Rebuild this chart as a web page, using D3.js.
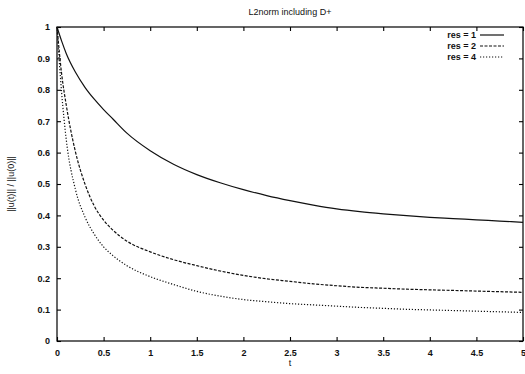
<!DOCTYPE html>
<html>
<head>
<meta charset="utf-8">
<script src="https://cdn.jsdelivr.net/npm/d3@7"></script>
<style>
  body { margin: 0; background: #fff; }
  svg { display: block; font-family: "Liberation Sans", Arial, sans-serif; }
  .tick-label { font-size: 9px; font-weight: bold; fill: #111; }
</style>
</head>
<body>
<div id="chart"></div>
<script>
const width = 525, height = 374;
const margin = { top: 27, right: 2, bottom: 33, left: 57 };

const title = "L2norm including D+";
const xLabel = "t";
const yLabel = "||u(t)|| / ||u(0)||";

const xTicks = [0, 0.5, 1, 1.5, 2, 2.5, 3, 3.5, 4, 4.5, 5];
const yTicks = [0, 0.1, 0.2, 0.3, 0.4, 0.5, 0.6, 0.7, 0.8, 0.9, 1];

const tValues = [0, 0.05, 0.1, 0.2, 0.3, 0.4, 0.5, 0.6, 0.75, 1, 1.25, 1.5, 1.75, 2,
  2.25, 2.5, 2.75, 3, 3.25, 3.5, 3.75, 4, 4.25, 4.5, 4.75, 5];
const res1 = [1, 0.955, 0.915, 0.855, 0.808, 0.77, 0.737, 0.707, 0.662, 0.606, 0.563,
  0.53, 0.504, 0.482, 0.463, 0.447, 0.433, 0.421, 0.412, 0.405, 0.399, 0.394,
  0.39, 0.386, 0.382, 0.378];
const res2 = [1, 0.85, 0.75, 0.6, 0.5, 0.43, 0.385, 0.353, 0.318, 0.284, 0.259,
  0.24, 0.223, 0.209, 0.198, 0.19, 0.182, 0.176, 0.171, 0.168, 0.165, 0.163,
  0.161, 0.159, 0.157, 0.155];
const res4 = [1, 0.79, 0.64, 0.48, 0.395, 0.34, 0.30, 0.272, 0.24, 0.205, 0.18,
  0.158, 0.143, 0.132, 0.125, 0.119, 0.115, 0.111, 0.107, 0.104, 0.101, 0.099,
  0.097, 0.095, 0.093, 0.091];

const seriesNames = ["res = 1", "res = 2", "res = 4"];
const seriesValues = [res1, res2, res4];
const dashes = [null, "3,1.5", "1.2,1.8"];

const svg = d3.select("#chart").append("svg")
  .attr("width", width).attr("height", height);

const x = d3.scaleLinear().domain([0, 5]).range([margin.left, width - margin.right]);
const y = d3.scaleLinear().domain([0, 1]).range([height - margin.bottom, margin.top]);

// frame
svg.append("rect")
  .attr("x", x(0)).attr("y", y(1))
  .attr("width", x(5) - x(0)).attr("height", y(0) - y(1))
  .attr("fill", "none").attr("stroke", "#000").attr("stroke-width", 1.2);

// ticks, mirrored inside on all sides
const tl = 4;
svg.append("g").call(d3.axisBottom(x).tickValues(xTicks).tickSize(-tl).tickFormat(d3.format("")))
  .attr("transform", `translate(0,${y(0)})`)
  .call(g => g.select(".domain").remove())
  .call(g => g.selectAll("text").attr("class", "tick-label").attr("dy", "1em").attr("y", 6));
svg.append("g").call(d3.axisTop(x).tickValues(xTicks).tickSize(-tl).tickFormat(""))
  .attr("transform", `translate(0,${y(1)})`)
  .call(g => g.select(".domain").remove());
svg.append("g").call(d3.axisLeft(y).tickValues(yTicks).tickSize(-tl).tickFormat(d3.format("")))
  .attr("transform", `translate(${x(0)},0)`)
  .call(g => g.select(".domain").remove())
  .call(g => g.selectAll("text").attr("class", "tick-label").attr("x", -7));
svg.append("g").call(d3.axisRight(y).tickValues(yTicks).tickSize(-tl).tickFormat(""))
  .attr("transform", `translate(${x(5)},0)`)
  .call(g => g.select(".domain").remove());
svg.selectAll(".tick line").attr("stroke", "#000").attr("stroke-width", 1.1);

// curves
const line = d3.line()
  .x((d, i) => x(tValues[i]))
  .y(d => y(d))
  .curve(d3.curveMonotoneX);

seriesValues.forEach((vals, k) => {
  svg.append("path")
    .attr("d", line(vals))
    .attr("fill", "none")
    .attr("stroke", "#111")
    .attr("stroke-width", 1.2)
    .attr("stroke-dasharray", dashes[k]);
});

// legend
const legend = svg.append("g");
seriesNames.forEach((name, k) => {
  const ly = 35 + k * 11;
  legend.append("text")
    .attr("class", "tick-label")
    .attr("x", 476).attr("y", ly).attr("dy", "0.35em")
    .attr("text-anchor", "end")
    .text(name);
  legend.append("line")
    .attr("x1", 480).attr("x2", 504)
    .attr("y1", ly).attr("y2", ly)
    .attr("stroke", "#111").attr("stroke-width", 1.2)
    .attr("stroke-dasharray", dashes[k]);
});

// titles
svg.append("text")
  .attr("x", 290).attr("y", 15)
  .attr("text-anchor", "middle")
  .attr("font-size", 9).attr("fill", "#111")
  .text(title);
svg.append("text")
  .attr("x", 290).attr("y", 366)
  .attr("text-anchor", "middle")
  .attr("font-size", 9).attr("fill", "#111")
  .text(xLabel);
svg.append("text")
  .attr("transform", `translate(14,${(y(0) + y(1)) / 2}) rotate(-90)`)
  .attr("text-anchor", "middle")
  .attr("font-size", 9).attr("fill", "#111")
  .text(yLabel);
</script>
</body>
</html>
